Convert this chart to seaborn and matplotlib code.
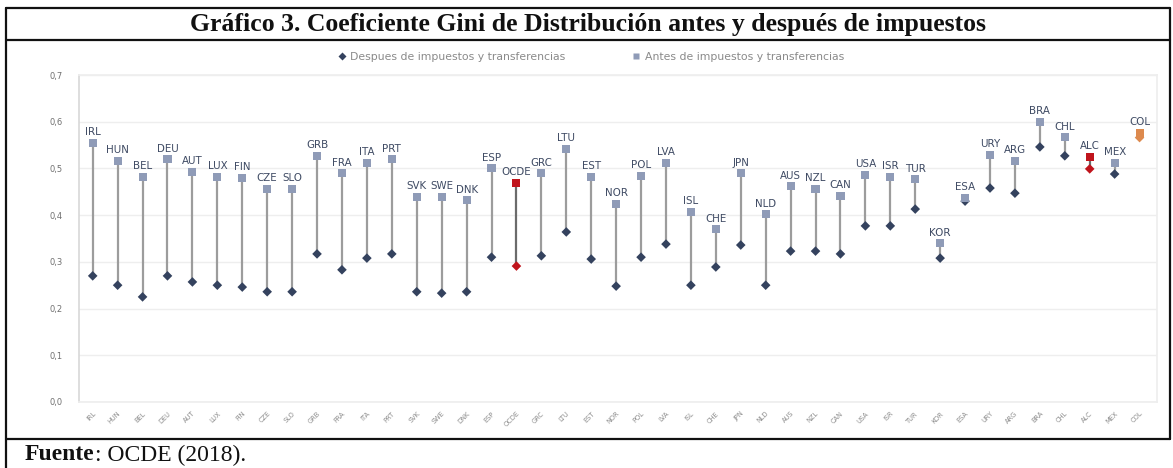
import numpy as np
import pandas as pd
import seaborn as sns
import matplotlib.pyplot as plt
from matplotlib.lines import Line2D

paises = ['IRL', 'HUN', 'BEL', 'DEU', 'AUT', 'LUX', 'FIN', 'CZE', 'SLO', 'GRB',
          'FRA', 'ITA', 'PRT', 'SVK', 'SWE', 'DNK', 'ESP', 'OCDE', 'GRC', 'LTU',
          'EST', 'NOR', 'POL', 'LVA', 'ISL', 'CHE', 'JPN', 'NLD', 'AUS', 'NZL',
          'CAN', 'USA', 'ISR', 'TUR', 'KOR', 'ESA', 'URY', 'ARG', 'BRA', 'CHL',
          'ALC', 'MEX', 'COL']
antes = [0.555, 0.516, 0.482, 0.520, 0.493, 0.482, 0.480, 0.456, 0.456, 0.527,
         0.490, 0.512, 0.520, 0.439, 0.439, 0.432, 0.500, 0.469, 0.490, 0.542,
         0.482, 0.424, 0.484, 0.512, 0.407, 0.370, 0.490, 0.402, 0.462, 0.456,
         0.441, 0.486, 0.482, 0.477, 0.340, 0.437, 0.529, 0.516, 0.600, 0.567,
         0.525, 0.512, 0.576]
despues = [0.270, 0.250, 0.225, 0.270, 0.257, 0.250, 0.246, 0.236, 0.236, 0.317,
           0.283, 0.308, 0.317, 0.236, 0.233, 0.236, 0.310, 0.291, 0.313, 0.364,
           0.306, 0.248, 0.310, 0.338, 0.250, 0.289, 0.336, 0.250, 0.323, 0.323,
           0.317, 0.377, 0.377, 0.413, 0.308, 0.430, 0.458, 0.447, 0.546, 0.527,
           0.499, 0.488, 0.566]
destacados = {'OCDE': '#c0141c', 'ALC': '#c0141c', 'COL': '#dd8a4e'}

df = pd.DataFrame({'pais': paises, 'antes': antes, 'despues': despues})
df['x'] = np.arange(len(df))

sns.set_theme(style='white')
plt.rcParams['font.family'] = ['DejaVu Sans']

W, H = 1173, 468
fig = plt.figure(figsize=(W / 100, H / 100), dpi=100)
ax = fig.add_axes([79 / W, 66 / H, (1157 - 79) / W, (402 - 75) / H])

# lineas entre antes y despues
for _, fila in df.iterrows():
    col_linea = '#6b6b6b' if fila['pais'] in ('OCDE', 'ALC') else '#9c9c9c'
    if fila['pais'] == 'COL':
        col_linea = destacados['COL']
    ax.vlines(fila['x'], fila['despues'], fila['antes'], color=col_linea, lw=1.6, zorder=2)

normales = df[~df['pais'].isin(destacados)]
sns.scatterplot(data=normales, x='x', y='despues', marker='D', s=24,
                color='#34425e', edgecolor='none', ax=ax, zorder=3, legend=False)
sns.scatterplot(data=normales, x='x', y='antes', marker='s', s=34,
                color='#8f9bb7', edgecolor='none', ax=ax, zorder=3, legend=False)
for pais, color in destacados.items():
    sub = df[df['pais'] == pais]
    sns.scatterplot(data=sub, x='x', y='despues', marker='D', s=24, color=color,
                    edgecolor='none', ax=ax, zorder=3, legend=False)
    sns.scatterplot(data=sub, x='x', y='antes', marker='s', s=34, color=color,
                    edgecolor='none', ax=ax, zorder=4, legend=False)

# etiquetas de pais sobre cada punto
for _, fila in df.iterrows():
    ax.annotate(fila['pais'], (fila['x'], fila['antes']), xytext=(0, 4),
                textcoords='offset points', ha='center', va='bottom',
                fontsize=7.4, color='#3e4a63')

ax.set_xlim(-0.55, 42.7)
ax.set_ylim(0, 0.7)
ax.set_yticks(np.arange(0, 0.71, 0.1))
ax.set_yticklabels([f'{v:.1f}'.replace('.', ',') for v in np.arange(0, 0.71, 0.1)],
                   fontsize=6, color='#707070')
ax.set_xticks(df['x'])
ax.set_xticklabels(df['pais'], rotation=45, ha='right', rotation_mode='anchor',
                   fontsize=4.8, color='#8a8a8a')
ax.tick_params(axis='y', length=0, pad=12)
ax.tick_params(axis='x', length=0, pad=6)
ax.set_xlabel('')
ax.set_ylabel('')
ax.grid(axis='y', color='#eeeeee', lw=1)
for lado in ['top', 'right', 'bottom']:
    ax.spines[lado].set_color('#eeeeee')
ax.spines['left'].set_color('#d9d9d9')

# leyenda
handles = [
    Line2D([], [], marker='D', color='none', markerfacecolor='#34425e',
           markeredgecolor='none', markersize=4, label='Despues de impuestos y transferencias'),
    Line2D([], [], marker='s', color='none', markerfacecolor='#8f9bb7',
           markeredgecolor='none', markersize=4.5, label='Antes de impuestos y transferencias'),
]
fig.legend(handles=handles, loc='center', bbox_to_anchor=(590 / W, 1 - 57 / H),
           ncol=2, frameon=False, fontsize=7.8, labelcolor='#8a8a8a',
           columnspacing=6, handletextpad=0.3, handlelength=1.0)

# marco del cuadro
def linea(x0, y0, x1, y1, lw=1.6):
    fig.add_artist(Line2D([x0 / W, x1 / W], [1 - y0 / H, 1 - y1 / H],
                          color='#111111', lw=lw))

linea(6, 8, 1170, 8)
linea(6, 40, 1170, 40)
linea(6, 439, 1170, 439)
linea(6, 8, 6, 468)
linea(1170, 8, 1170, 439)

fig.text(588 / W, 1 - 24 / H, 'Gráfico 3. Coeficiente Gini de Distribución antes y después de impuestos',
         ha='center', va='center', fontsize=18.5, fontweight='bold',
         family=['Liberation Serif'], color='#111111')
t1 = fig.text(25 / W, 1 - 455 / H, 'Fuente', ha='left', va='center', fontsize=17,
              fontweight='bold', family=['Liberation Serif'], color='#111111')
fig.canvas.draw()
bb = t1.get_window_extent(fig.canvas.get_renderer())
fig.text(bb.x1 / W, 1 - 455 / H, ': OCDE (2018).', ha='left', va='center', fontsize=17,
         family=['Liberation Serif'], color='#111111')

fig.savefig('out.png', dpi=100)
